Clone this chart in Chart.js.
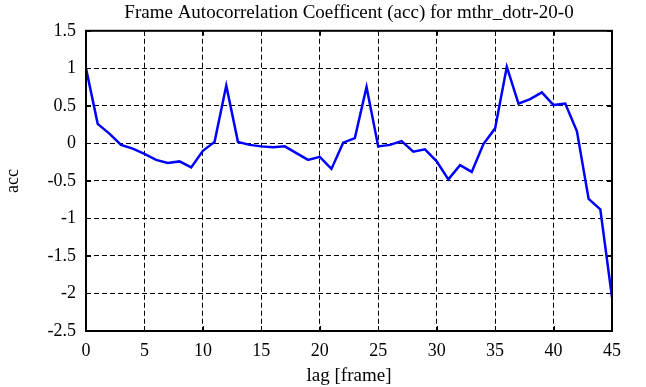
<!DOCTYPE html>
<html>
<head>
<meta charset="utf-8">
<script src="https://cdn.jsdelivr.net/npm/chart.js@4/dist/chart.umd.min.js"></script>
<style>
  html, body { margin: 0; padding: 0; background: #fff; }
  #wrap { width: 646px; height: 387px; }
</style>
</head>
<body>
<div id="wrap"><canvas id="accChart" width="646" height="387"></canvas></div>
<script>
const lags = [];
for (let i = 0; i <= 45; i++) lags.push(i);

const accValues = [
    1.00, 0.26, 0.13, -0.02, -0.07, -0.14, -0.22, -0.26, -0.24, -0.32,
    -0.10, 0.02, 0.77, 0.02, -0.02, -0.04, -0.05, -0.04, -0.13, -0.22,
    -0.18, -0.34, 0.01, 0.07, 0.75, -0.04, -0.02, 0.03, -0.11, -0.08,
    -0.24, -0.48, -0.29, -0.38, -0.01, 0.20, 1.02, 0.53, 0.59, 0.68,
    0.51, 0.53, 0.16, -0.74, -0.88, -2.05
];

const titleText = "Frame Autocorrelation Coefficent (acc) for mthr_dotr-20-0";
const xTitle = "lag [frame]";
const yTitle = "acc";

const fontFamily = "'Liberation Serif', 'DejaVu Serif', serif";

// frame box + small inward tick marks, like the original plot
const framePlugin = {
    id: "frame",
    afterDatasetsDraw(chart) {
        const { ctx, chartArea: a, scales } = chart;
        ctx.save();
        ctx.strokeStyle = "#000";
        ctx.lineWidth = 1;
        ctx.setLineDash([]);
        const len = 5;
        scales.x.ticks.forEach(t => {
            const px = Math.round(scales.x.getPixelForValue(t.value)) + 0.5;
            ctx.beginPath();
            ctx.moveTo(px, a.top); ctx.lineTo(px, a.top + len);
            ctx.moveTo(px, a.bottom); ctx.lineTo(px, a.bottom - len);
            ctx.stroke();
        });
        scales.y.ticks.forEach(t => {
            const py = Math.round(scales.y.getPixelForValue(t.value)) + 0.5;
            ctx.beginPath();
            ctx.moveTo(a.left, py); ctx.lineTo(a.left + len, py);
            ctx.moveTo(a.right, py); ctx.lineTo(a.right - len, py);
            ctx.stroke();
        });
        ctx.lineWidth = 2;
        ctx.strokeRect(a.left, a.top, a.right - a.left, a.bottom - a.top);
        ctx.restore();
    }
};

new Chart(document.getElementById("accChart"), {
    type: "line",
    data: {
        labels: lags,
        datasets: [{
            data: accValues,
            borderColor: "#0000ff",
            borderWidth: 2.5,
            pointRadius: 0,
            tension: 0,
            fill: false
        }]
    },
    options: {
        responsive: false,
        animation: false,
        layout: { padding: { top: 2, right: 34, bottom: 0, left: 0 } },
        plugins: {
            legend: { display: false },
            tooltip: { enabled: false },
            title: {
                display: true,
                text: titleText,
                fullSize: false,
                color: "#000",
                font: { family: fontFamily, size: 19, weight: "normal" },
                padding: { top: 0, bottom: 6 }
            }
        },
        scales: {
            x: {
                type: "linear",
                min: 0,
                max: 45,
                ticks: {
                    stepSize: 5,
                    color: "#000",
                    padding: 9,
                    maxRotation: 0,
                    font: { family: fontFamily, size: 18 }
                },
                grid: { color: "#000", lineWidth: 1, drawTicks: false },
                border: { display: false, dash: [5, 3] },
                title: {
                    display: true,
                    text: xTitle,
                    color: "#000",
                    font: { family: fontFamily, size: 19 },
                    padding: { top: 0, bottom: 0 }
                },
                afterFit(scale) { scale.height = 56; }
            },
            y: {
                min: -2.5,
                max: 1.5,
                ticks: {
                    stepSize: 0.5,
                    color: "#000",
                    padding: 10,
                    font: { family: fontFamily, size: 18 },
                    callback: v => String(Math.round(v * 10) / 10)
                },
                grid: { color: "#000", lineWidth: 1, drawTicks: false },
                border: { display: false, dash: [5, 3] },
                title: {
                    display: true,
                    text: yTitle,
                    color: "#000",
                    font: { family: fontFamily, size: 18 },
                    padding: { top: 2, bottom: 0 }
                },
                afterFit(scale) { scale.width = 86; }
            }
        }
    },
    plugins: [framePlugin]
});
</script>
</body>
</html>
